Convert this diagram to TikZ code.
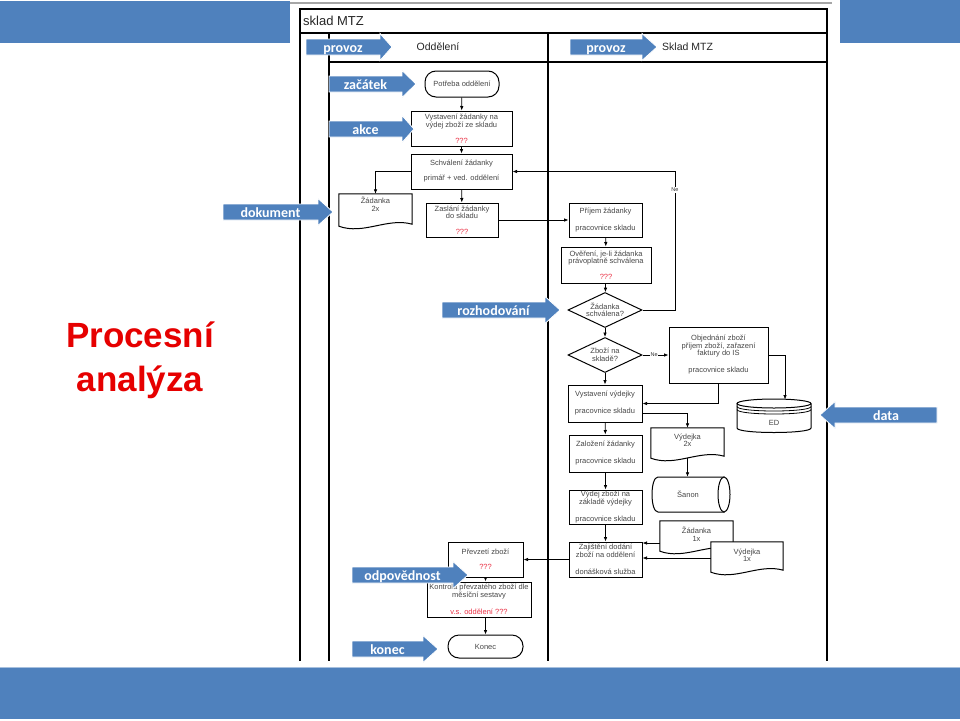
\documentclass[tikz,border=0pt]{standalone}
\usepackage{fontspec}
\setmainfont{Liberation Sans}
\newfontfamily\calibfont{Carlito}
\usetikzlibrary{shapes.geometric, arrows.meta, calc}
\definecolor{barblue}{HTML}{4F81BD}
\definecolor{qred}{RGB}{235,50,70}
\definecolor{ftext}{gray}{0.28}
\definecolor{titlered}{HTML}{E60000}
\newcommand{\flowfont}{\fontsize{7.5}{7.5}\selectfont}
\newcommand{\bluearrow}[6]{%
  \fill[barblue, draw=white, line width=0.8pt] (#2,#5-8) -- (#3,#5-8) -- (#3,#5-13.5) -- (#4,#5) -- (#3,#5+13.5) -- (#3,#5+8) -- (#2,#5+8) -- cycle;
  \node[arrowlabel] (#1) at ({(#2+#3)/2},#5) {#6};
}
\newcommand{\docnode}[7]{%
  \node[docbox, minimum width=#4, minimum height=#5] (#1) at (#2,#3) {};
  \draw[docline] (#1.north west) -- (#1.north east) -- ($(#1.south east)+(0,-2)$) .. controls ($(#1.south)+(12,-9)$) and ($(#1.south)+(-12,9)$) .. (#1.south west) -- cycle;
  \node[doctext] (#1t) at ($(#1.center)+(0,#6)$) {#7};
}
\begin{document}
\begin{tikzpicture}[x=1pt,y=-1pt,
  frame/.style={line width=1.1pt, draw=black},
  box/.style={draw=black, line width=1pt, fill=white, rectangle, inner sep=0pt, align=center, font=\flowfont, text=ftext},
  term/.style={box, rounded corners=11pt},
  decision/.style={box, diamond, aspect=2},
  docbox/.style={rectangle, inner sep=0pt},
  docline/.style={draw=black, line width=1pt, fill=white},
  doctext/.style={font=\flowfont, text=ftext, align=center, inner sep=0pt},
  conn/.style={line width=0.75pt, draw=black, -{Latex[length=4.5pt,width=3.6pt]}},
  nelabel/.style={font=\fontsize{5.5}{6}\selectfont, fill=white, inner sep=0.6pt, text=black!80},
  arrowlabel/.style={font=\calibfont\bfseries\fontsize{14}{16}\selectfont, text=white, inner sep=0pt, text height=12pt, text depth=2pt},
  header/.style={font=\fontsize{10.5}{12}\selectfont, text=black!85, inner sep=0pt},
  ]
\useasboundingbox (0,0) rectangle (960,720);
\fill[white] (0,0) rectangle (960,720);

% bands
\fill[barblue] (0,1) rectangle (290,43);
\fill[barblue] (840,0) rectangle (960,43);
\fill[barblue] (0,667) rectangle (960,719);
\draw[barblue!50!white, line width=0.8pt] (0,667) -- (960,667);
\draw[black!35, line width=1.5pt] (290,3) -- (832,3);

% frame
\draw[frame] (300,661) -- (300,9) -- (827,9) -- (827,661);
\draw[frame] (300,33) -- (827,33);
\draw[frame] (329,62) -- (827,62);
\draw[frame] (329,33) -- (329,661);
\draw[frame] (548,33) -- (548,661);
\node[font=\fontsize{13}{15}\selectfont, text=black!85, anchor=west, inner sep=0pt] (ttl) at (303,21) {sklad MTZ};
\node[header] (hodd) at (438,47) {Oddělení};
\node[header, anchor=west] (hskl) at (662,47) {Sklad MTZ};

% left lane
\node[term, minimum width=74, minimum height=26] (potreba) at (462,84) {Potřeba oddělení};
\node[box, minimum width=101, minimum height=35] (vystz) at (461.5,128.5) {Vystavení žádanky na\\výdej zboží ze skladu\\[8.5pt]\textcolor{qred}{???}};
\node[box, minimum width=101, minimum height=35] (schv) at (461.5,171.5) {Schválení žádanky\\[7.5pt]primář + ved. oddělení};
\docnode{zad2}{375.5}{210}{73}{32}{-6}{Žádanka\\2x}
\node[box, minimum width=72, minimum height=34] (zasl) at (462,220) {Zaslání žádanky\\do skladu\\[8.5pt]\textcolor{qred}{???}};

% right lane
\node[box, minimum width=73, minimum height=34] (prij) at (605.5,220) {Příjem žádanky\\[9.5pt]pracovnice skladu};
\node[box, minimum width=90, minimum height=36] (over) at (606,265) {Ověření, je-li žádanka\\právoplatně schválena\\[8.5pt]\textcolor{qred}{???}};
\node[decision, minimum width=74, minimum height=35] (d1) at (605,310) {Žádanka\\schválena?};
\node[decision, minimum width=74, minimum height=35] (d2) at (605,355) {Zboží na\\skladě?};
\node[box, minimum width=99, minimum height=56] (obj) at (718.5,355) {Objednání zboží\\příjem zboží, zařazení\\faktury do IS\\[9.5pt]pracovnice skladu};
\node[box, minimum width=74, minimum height=37] (vv) at (605,403.5) {Vystavení výdejky\\[9.5pt]pracovnice skladu};
\docnode{vyd2}{687.5}{443}{73}{30}{-3}{Výdejka\\2x}

% ED database
\draw[docline] (737,403.5) -- (737,428) .. controls (737,434) and (811,434) .. (811,428) -- (811,403.5);
\draw[docline] (774,403.5) ellipse [x radius=37, y radius=4.5];
\draw[line width=0.8pt] (737,406.5) .. controls (737,412.5) and (811,412.5) .. (811,406.5);
\draw[line width=0.8pt] (737,409.5) .. controls (737,415.5) and (811,415.5) .. (811,409.5);
\node[doctext] (ed) at (774,423) {ED};
\coordinate (edtop) at (785,399.5);

% Sanon storage
\draw[docline] (658,477) -- (724,477) -- (724,512) -- (658,512) .. controls (650,512) and (650,477) .. (658,477) -- cycle;
\draw[docline] (724,494.5) ellipse [x radius=6, y radius=17.5];
\node[doctext, minimum height=35] (sanon) at (688,494.5) {Šanon};

\node[box, minimum width=73, minimum height=37] (zal) at (605.5,453.5) {Založení žádanky\\[9.5pt]pracovnice skladu};
\node[box, minimum width=73, minimum height=34] (vzb) at (605.5,507) {Výdej zboží na\\základě výdejky\\[9.5pt]pracovnice skladu};
\node[box, minimum width=73, minimum height=35] (zaj) at (605.5,559.5) {Zajištění dodání\\zboží na oddělení\\[10pt]donášková služba};
\docnode{zad1}{696.5}{536}{73}{30}{-2}{Žádanka\\1x}
\docnode{vyd1}{747}{557}{72}{30}{-2}{Výdejka\\1x}

\node[box, minimum width=75, minimum height=35] (prev) at (485.5,559.5) {Převzetí zboží\\[7.5pt]\textcolor{qred}{???}};
\node[box, minimum width=104, minimum height=35] (kontr) at (479,599.5) {Kontrola převzatého zboží dle\\měsíční sestavy\\[9.5pt]\textcolor{qred}{v.s. oddělení ???}};
\node[term, minimum width=75, minimum height=23] (konec) at (485.5,646.5) {Konec};

% connectors
\draw[conn] (potreba) -- (vystz);
\draw[conn] (vystz) -- (schv);
\draw[conn] (schv) -- (zasl);
\draw[conn] (schv.west) -| (zad2.north);
\draw[conn] (zasl.east) -- (prij.west);
\draw[conn] (prij) -- (over);
\draw[conn] (over) -- (d1);
\coordinate (ne1) at (675,171.5);
\draw[conn] (d1.east) -| (ne1) -- (schv.east);
\node[nelabel] (ne1l) at (675,190) {Ne};
\draw[conn] (d1) -- (d2);
\draw[conn] (d2.east) -- (obj.west) node[nelabel, pos=0.45] (ne2l) {Ne};
\draw[conn] (d2) -- (vv);
\draw[conn] (obj.south) |- (vv.east);
\draw[conn] (obj.east) -| (edtop);
\coordinate (vvr) at ($(vv.east)+(0,9.5)$);
\draw[conn] (vvr) -| (vyd2.north);
\draw[conn] (vyd2.south) -- (vyd2.south |- sanon.north);
\draw[conn] (vv) -- (zal);
\draw[conn] (zal) -- (vzb);
\draw[conn] (vzb) -- (zaj);
\coordinate (za1) at ($(zad1.west)+(0,7)$);
\draw[conn] (za1) -- (za1 -| zaj.east);
\coordinate (vy1) at ($(vyd1.west)+(0,1)$);
\draw[conn] (vy1) -- (vy1 -| zaj.east);
\draw[conn] (zaj.west) -- (prev.east);
\draw[conn] (prev.south) -- (prev.south |- kontr.north);
\draw[conn] (konec.north |- kontr.south) -- (konec.north);

% blue callout arrows
\bluearrow{aprov1}{306}{380}{392}{47}{provoz}
\bluearrow{aprov2}{570}{642}{657}{47}{provoz}
\bluearrow{azac}{329}{402}{416}{84}{začátek}
\bluearrow{aakce}{329}{402}{414}{129}{akce}
\bluearrow{adok}{223}{318}{333}{212}{dokument}
\bluearrow{aroz}{442}{545}{560}{310}{rozhodování}
\bluearrow{adata}{937}{835}{820}{415}{data}
\bluearrow{aodp}{352}{453}{468}{575}{odpovědnost}
\bluearrow{akon}{352}{423}{438}{649}{konec}

% title
\node[font=\bfseries\fontsize{35}{44}\selectfont, text=titlered, align=center, inner sep=0pt] (ptitle) at (140,360) {Procesní\\analýza};
\end{tikzpicture}
\end{document}
